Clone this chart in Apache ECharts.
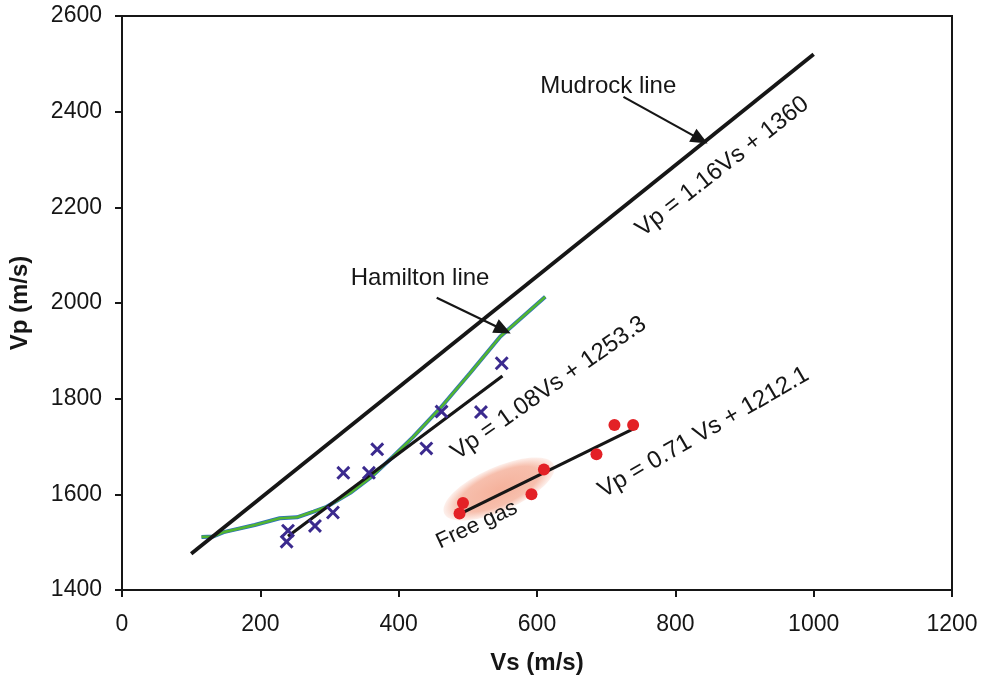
<!DOCTYPE html>
<html>
<head>
<meta charset="utf-8">
<script src="https://cdn.jsdelivr.net/npm/echarts@6/dist/echarts.min.js"></script>
<style>
  html, body { margin: 0; padding: 0; background: #ffffff; }
  #chart { width: 985px; height: 683px; }
</style>
</head>
<body>
<div id="chart"></div>
<script>
// Axis ticks
const vsTicks = [0, 200, 400, 600, 800, 1000, 1200];
const vpTicks = [1400, 1600, 1800, 2000, 2200, 2400, 2600];

// Shale samples (crosses)
const shaleVs = [238, 240, 279, 305, 320, 357, 369, 440, 462, 519, 549];
const shaleVp = [1501, 1524, 1534, 1562, 1645, 1645, 1694, 1696, 1773, 1772, 1874];

// Gas-bearing samples (red dots)
const gasVs = [488, 493, 592, 610, 686, 712, 739];
const gasVp = [1560, 1582, 1600, 1652, 1684, 1745, 1745];

// Hamilton line
const hamiltonVs = [115, 132, 147, 192, 228, 253, 277, 296, 330, 361, 392, 421, 460, 503, 547, 612];
const hamiltonVp = [1511, 1512, 1521, 1536, 1550, 1552, 1564, 1574, 1603, 1637, 1679, 1720, 1780, 1853, 1930, 2013];

// Linear fits: [slope, intercept] and Vs range drawn
const mudrockCoef = [1.16, 1360];
const mudrockRange = [100, 1000];
const shaleCoef = [1.08, 1253.3];
const shaleRange = [240, 550];
const gasCoef = [0.71, 1212.1];
const gasRange = [488, 740];

// Free gas patch centre [Vs, Vp]
const gasPatch = [545, 1611];

const zip = (a, b) => a.map((v, i) => [v, b[i]]);
const fitLine = (coef, range) => range.map(x => [x, coef[0] * x + coef[1]]);

const INK = '#161616';
const FONT = '"Liberation Sans", Arial, sans-serif';

// Annotation texts anchored in data space
const notes = [
  { at: [868, 2285], text: 'Vp = 1.16Vs + 1360', rotate: 38, size: 24 },
  { at: [617, 1822], text: 'Vp = 1.08Vs + 1253.3', rotate: 35, size: 24 },
  { at: [841, 1729], text: 'Vp = 0.71 Vs + 1212.1', rotate: 30, size: 24 },
  { at: [513, 1536], text: 'Free gas', rotate: 25, size: 22 },
  { at: [431, 2051], text: 'Hamilton line', rotate: 0, size: 24 },
  { at: [703, 2452], text: 'Mudrock line', rotate: 0, size: 24 }
];

// Pointer arrows [from, to]
const arrows = [
  [[455, 2011], [551, 1944]],
  [[725, 2431], [836, 2342]]
];

const chart = echarts.init(document.getElementById('chart'), null, { renderer: 'canvas' });

const axisCommon = {
  type: 'value',
  nameLocation: 'middle',
  nameTextStyle: { fontSize: 24, fontWeight: 'bold', color: INK, fontFamily: FONT },
  axisLine: { lineStyle: { color: INK, width: 2 } },
  axisTick: { show: true, inside: false, length: 7, lineStyle: { color: INK, width: 2 } },
  splitLine: { show: false }
};

chart.setOption({
  animation: false,
  backgroundColor: '#ffffff',
  textStyle: { fontFamily: FONT },
  grid: {
    left: 122, right: 33, top: 16, bottom: 93,
    show: true, borderColor: INK, borderWidth: 2,
    outerBoundsMode: 'none'
  },
  xAxis: Object.assign({}, axisCommon, {
    min: vsTicks[0], max: vsTicks[vsTicks.length - 1], interval: vsTicks[1] - vsTicks[0],
    name: 'Vs (m/s)', nameGap: 61,
    axisLabel: { fontSize: 23, color: INK, margin: 23, fontFamily: FONT, formatter: v => String(v) }
  }),
  yAxis: Object.assign({}, axisCommon, {
    min: vpTicks[0], max: vpTicks[vpTicks.length - 1], interval: vpTicks[1] - vpTicks[0],
    name: 'Vp (m/s)', nameGap: 90, nameRotate: 90,
    axisLabel: { fontSize: 23, color: INK, margin: 20, fontFamily: FONT, formatter: v => String(v) }
  }),
  series: [
    {
      // soft highlight around the free-gas samples
      type: 'custom',
      z: 1,
      silent: true,
      data: [gasPatch],
      renderItem: function (params, api) {
        const c = api.coord([api.value(0), api.value(1)]);
        return {
          type: 'circle',
          x: c[0], y: c[1],
          rotation: 24 * Math.PI / 180,
          scaleX: 60, scaleY: 22,
          shape: { cx: 0, cy: 0, r: 1 },
          style: {
            fill: {
              type: 'radial', x: 0.5, y: 0.5, r: 0.5,
              colorStops: [
                { offset: 0, color: 'rgba(240,138,105,0.66)' },
                { offset: 0.72, color: 'rgba(240,138,105,0.55)' },
                { offset: 1, color: 'rgba(240,138,105,0.12)' }
              ]
            }
          }
        };
      }
    },
    {
      type: 'line', z: 3, silent: true, symbol: 'none',
      data: zip(hamiltonVs, hamiltonVp),
      lineStyle: { color: '#2c6cc4', width: 4 }
    },
    {
      type: 'line', z: 4, silent: true, symbol: 'none',
      data: zip(hamiltonVs, hamiltonVp),
      lineStyle: { color: '#52b531', width: 2.6 }
    },
    {
      type: 'line', z: 5, silent: true, symbol: 'none',
      data: fitLine(mudrockCoef, mudrockRange),
      lineStyle: { color: INK, width: 3.8 },
      markLine: {
        silent: true,
        symbol: ['none', 'triangle'],
        symbolSize: [15, 17],
        label: { show: false },
        lineStyle: { color: INK, width: 2.2, type: 'solid' },
        data: arrows.map(a => [{ coord: a[0] }, { coord: a[1] }])
      }
    },
    {
      type: 'line', z: 5, silent: true, symbol: 'none',
      data: fitLine(shaleCoef, shaleRange),
      lineStyle: { color: INK, width: 3.2 }
    },
    {
      type: 'line', z: 5, silent: true, symbol: 'none',
      data: fitLine(gasCoef, gasRange),
      lineStyle: { color: INK, width: 3.2 }
    },
    {
      type: 'scatter', z: 6, silent: true,
      data: zip(shaleVs, shaleVp),
      symbol: 'path://M0,1.5 L1.5,0 L5,3.5 L8.5,0 L10,1.5 L6.5,5 L10,8.5 L8.5,10 L5,6.5 L1.5,10 L0,8.5 L3.5,5 Z',
      symbolSize: 14,
      itemStyle: { color: '#3b2a8e', opacity: 1 }
    },
    {
      type: 'scatter', z: 6, silent: true,
      data: zip(gasVs, gasVp),
      symbol: 'circle', symbolSize: 12,
      itemStyle: { color: '#e32126', opacity: 1 }
    }
  ]
});

// Place annotation texts at their data positions
chart.setOption({
  graphic: notes.map(n => {
    const p = chart.convertToPixel({ gridIndex: 0 }, n.at);
    return {
      type: 'text',
      x: p[0], y: p[1],
      rotation: n.rotate * Math.PI / 180,
      z: 100,
      silent: true,
      style: {
        text: n.text,
        fill: INK,
        font: n.size + 'px ' + FONT,
        align: 'center',
        verticalAlign: 'middle'
      }
    };
  })
});
</script>
</body>
</html>
